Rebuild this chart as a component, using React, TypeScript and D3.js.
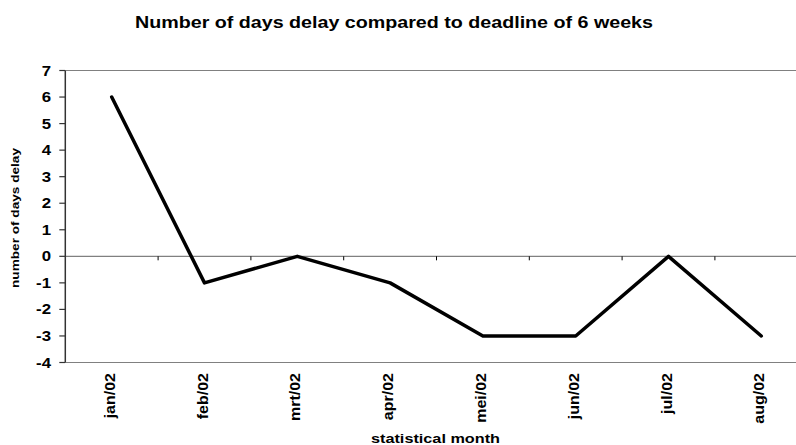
import React from "react";
import * as d3 from "d3";

const months = ["jan/02", "feb/02", "mrt/02", "apr/02", "mei/02", "jun/02", "jul/02", "aug/02"];
const delayDays = [6, -1, 0, -1, -3, -3, 0, -3];
const yTicks = [7, 6, 5, 4, 3, 2, 1, 0, -1, -2, -3, -4];

const W = 796;
const H = 445;
const plotLeft = 65.3;
const plotTop = 70.5;
const plotBottom = 362.5;
const bandW = 92.8;
const plotRight = plotLeft + bandW * months.length;

const FONT = "'Liberation Sans', Arial, Helvetica, sans-serif";

export default function App() {
  const x = d3.scaleBand<string>().domain(months).range([plotLeft, plotRight]).padding(0);
  const y = d3.scaleLinear().domain([-4, 7]).range([plotBottom, plotTop]);

  const line = d3
    .line<number>()
    .x((_, i) => (x(months[i]) as number) + x.bandwidth() / 2)
    .y((d) => y(d));

  const boundaries = months.slice(1).map((m) => x(m) as number);

  return (
    <svg
      width={W}
      height={H}
      style={{ position: "absolute", left: 0, top: 0, display: "block", background: "#fff" }}
      fontFamily={FONT}
    >
      <defs>
        <clipPath id="frame">
          <rect x={0} y={0} width={W} height={H} />
        </clipPath>
      </defs>
      <text
        x={135}
        y={28}
        fontSize={16}
        fontWeight="bold"
        textLength={518}
        lengthAdjust="spacingAndGlyphs"
        fill="#000"
      >
        Number of days delay compared to deadline of 6 weeks
      </text>

      <g clipPath="url(#frame)">
        {/* plot frame: top and bottom edges */}
        <line x1={plotLeft} x2={plotRight} y1={y(7)} y2={y(7)} stroke="#808080" strokeWidth={1.2} />
        <line x1={plotLeft} x2={plotRight} y1={y(-4)} y2={y(-4)} stroke="#808080" strokeWidth={1.2} />
        {/* zero baseline with category ticks */}
        <line x1={plotLeft} x2={plotRight} y1={y(0)} y2={y(0)} stroke="#808080" strokeWidth={1.2} />
        {boundaries.map((bx, i) => (
          <line key={i} x1={bx} x2={bx} y1={y(0)} y2={y(0) + 4} stroke="#000" strokeWidth={1} />
        ))}

        {/* value axis */}
        <line x1={plotLeft} x2={plotLeft} y1={y(7)} y2={y(-4)} stroke="#333" strokeWidth={1.5} />
        {yTicks.map((t) => (
          <g key={t}>
            <line x1={plotLeft - 6} x2={plotLeft} y1={y(t)} y2={y(t)} stroke="#333" strokeWidth={1.2} />
            <text
              transform={`translate(51,${y(t)}) scale(1.2,1)`}
              dy="0.36em"
              textAnchor="end"
              fontSize={14}
              fontWeight="bold"
              fill="#000"
            >
              {t}
            </text>
          </g>
        ))}

        <path
          d={line(delayDays) || ""}
          fill="none"
          stroke="#000"
          strokeWidth={3.5}
          strokeLinejoin="round"
          strokeLinecap="round"
        />

        {months.map((m) => {
          const cx = (x(m) as number) + x.bandwidth() / 2;
          return (
            <text
              key={m}
              transform={`translate(${cx + 3},373) rotate(-90) scale(1,0.88)`}
              textAnchor="end"
              fontSize={16}
              fontWeight="bold"
              fill="#000"
            >
              {m}
            </text>
          );
        })}
      </g>

      <text
        transform={`translate(19,148) rotate(-90)`}
        x={-140}
        fontSize={11.5}
        fontWeight="bold"
        textLength={140}
        lengthAdjust="spacingAndGlyphs"
        fill="#000"
      >
        number of days delay
      </text>

      <text
        x={371}
        y={443}
        fontSize={12.5}
        fontWeight="bold"
        textLength={129}
        lengthAdjust="spacingAndGlyphs"
        fill="#000"
      >
        statistical month
      </text>
    </svg>
  );
}
